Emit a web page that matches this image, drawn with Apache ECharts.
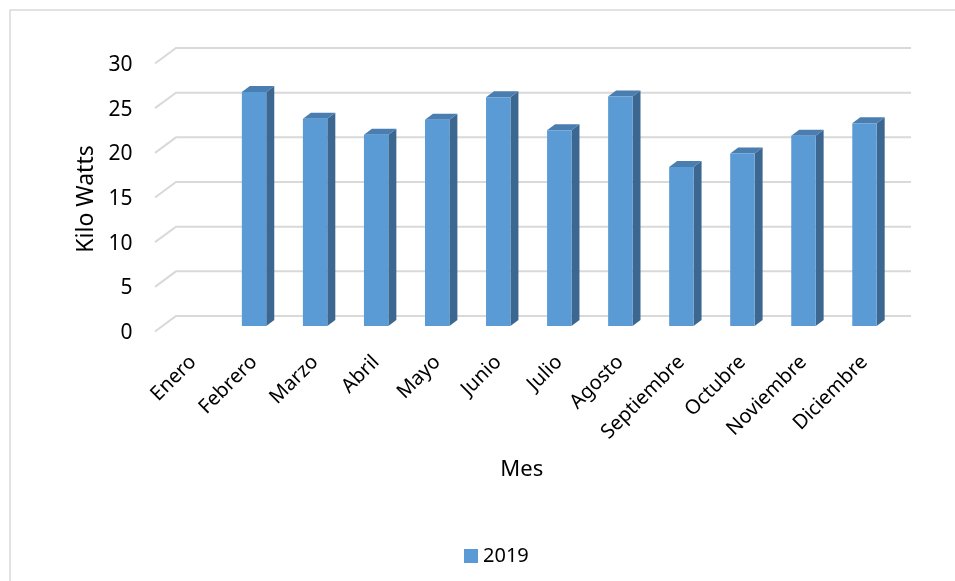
<!DOCTYPE html>
<html>
<head>
<meta charset="utf-8">
<script src="https://cdn.jsdelivr.net/npm/echarts@6/dist/echarts.min.js"></script>
<style>html,body{margin:0;padding:0;background:#fff}#c{width:955px;height:581px}</style>
</head>
<body>
<div id="c"></div>
<script>
const categories = ['Enero','Febrero','Marzo','Abril','Mayo','Junio','Julio','Agosto','Septiembre','Octubre','Noviembre','Diciembre'];
const values2019 = [null, 26.2, 23.2, 21.4, 23.1, 25.6, 21.9, 25.7, 17.8, 19.3, 21.3, 22.7];
const yTicks = [0, 5, 10, 15, 20, 25, 30];
const seriesName = '2019';

const FONT = 'Noto Sans';
const FRONT = '#5B9BD5', SIDE = '#3B6790', TOP = '#4A7DB0';

const chart = echarts.init(document.getElementById('c'), null, {renderer: 'canvas'});
chart.setOption({
  animation: false,
  backgroundColor: '#fff',
  graphic: [{
    type: 'rect', shape: {x: 10, y: 10, width: 960, height: 600},
    style: {fill: 'none', stroke: '#D9D9D9', lineWidth: 1.5}, silent: true, z: -10
  }],
  grid: {left: 162.5, right: 60, top: 65, bottom: 248, containLabel: false},
  legend: {
    data: [seriesName], left: 459, top: 541, itemWidth: 14, itemHeight: 14, itemGap: 6,
    icon: 'rect', textStyle: {fontFamily: FONT, fontSize: 20, color: '#000'}
  },
  xAxis: {
    type: 'category', data: categories,
    axisLine: {show: false}, axisTick: {show: false}, splitLine: {show: false},
    axisLabel: {rotate: 45, margin: 26, interval: 0, fontFamily: FONT, fontSize: 20, color: '#000'},
    name: 'Mes', nameLocation: 'middle', nameGap: 126,
    nameTextStyle: {fontFamily: FONT, fontSize: 22, color: '#000', padding: [0, 14, 0, 0]}
  },
  yAxis: {
    type: 'value', min: 0, max: 30, interval: 5,
    axisLine: {show: false}, axisTick: {show: false}, splitLine: {show: false},
    axisLabel: {margin: 30, fontFamily: FONT, fontSize: 21, color: '#000'},
    name: 'Kilo Watts', nameLocation: 'middle', nameGap: 64, nameRotate: 90,
    nameTextStyle: {fontFamily: FONT, fontSize: 23, color: '#000'}
  },
  series: [
    {
      name: 'grid3d', type: 'custom', clip: false, silent: true, z: 1,
      data: yTicks.map(v => [0, v]),
      encode: {x: 0, y: 1},
      renderItem: function (params, api) {
        const p = api.coord([0, api.value(1)]);
        const bw = api.size([1, 0])[0];
        const left = p[0] - bw / 2;
        const right = left + bw * categories.length;
        const y = p[1];
        return {
          type: 'polyline',
          shape: {points: [[left - 7.5, y - 1.5], [left + 13.5, y - 17], [right + 16, y - 17]]},
          style: {stroke: '#D9D9D9', lineWidth: 2, fill: null}
        };
      }
    },
    {
      name: seriesName, type: 'custom', clip: false, z: 2,
      itemStyle: {color: FRONT},
      data: values2019.map((v, i) => [i, v]),
      encode: {x: 0, y: 1},
      renderItem: function (params, api) {
        const val = api.value(1);
        if (val == null || isNaN(val)) return null;
        const top = api.coord([api.value(0), val]);
        const bot = api.coord([api.value(0), 0]);
        const hw = 12.2, dx = 8, dy = 6, off = 7;
        const xl = top[0] - hw, xr = top[0] + hw;
        const yt = top[1] - off, yb = bot[1] - off;
        return {
          type: 'group',
          children: [
            {type: 'polygon', shape: {points: [[xr, yt], [xr + dx, yt - dy], [xr + dx, yb - dy], [xr, yb]]}, style: {fill: SIDE}},
            {type: 'polygon', shape: {points: [[xl, yt], [xl + dx, yt - dy], [xr + dx, yt - dy], [xr, yt]]}, style: {fill: TOP}},
            {type: 'rect', shape: {x: xl, y: yt, width: xr - xl, height: yb - yt}, style: {fill: FRONT}}
          ]
        };
      }
    }
  ]
});
</script>
</body>
</html>
